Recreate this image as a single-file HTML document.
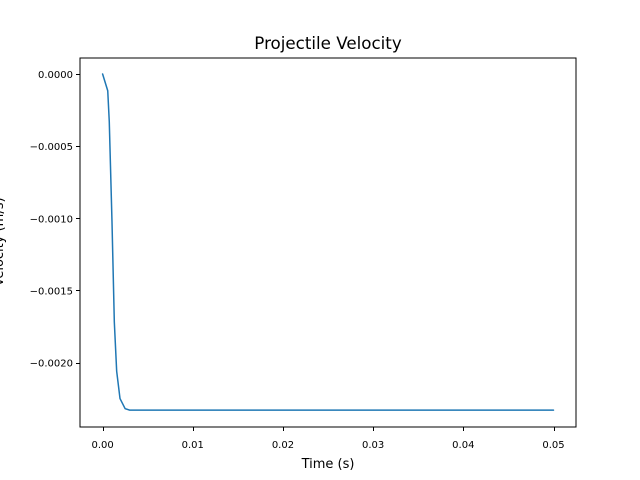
<!DOCTYPE html>
<html><head><meta charset="utf-8"><style>
body{margin:0;background:#fff}
svg{display:block;font-family:"DejaVu Sans","Liberation Sans",sans-serif}
</style></head><body>
<svg id="chart" width="640" height="480">
<rect width="640" height="480" fill="#fff"/>
<text x="328" y="49" font-size="16.7" text-anchor="middle" fill="#000">Projectile Velocity</text>
<text x="328" y="468" font-size="13" text-anchor="middle" fill="#000">Time (s)</text>
<text transform="translate(3,242) rotate(-90)" font-size="13" text-anchor="middle" fill="#000">Velocity (m/s)</text>
<g id="axes"></g>
<rect x="80" y="58" width="496" height="369" fill="none" stroke="#000" stroke-width="1"/>
</svg>
<script>
const times=[0,0.00057,0.00074,0.00104,0.0013,0.00156,0.00193,0.0025,0.003,0.01,0.02,0.03,0.04,0.05];
const velocities=[0,-0.000116,-0.00033,-0.00102,-0.00172,-0.00206,-0.00225,-0.00232,-0.00233,-0.00233,-0.00233,-0.00233,-0.00233,-0.00233];
const xTicks=[0,0.01,0.02,0.03,0.04,0.05];
const xTickLabels=["0.00","0.01","0.02","0.03","0.04","0.05"];
const yTicks=[0,-0.0005,-0.001,-0.0015,-0.002];
const yTickLabels=["0.0000","\u22120.0005","\u22120.0010","\u22120.0015","\u22120.0020"];
const sx=v=>102.6+v*9018;
const sy=v=>74-v*144250;
const g=document.getElementById('axes');
const NS='http://www.w3.org/2000/svg';
function mk(t,a){const e=document.createElementNS(NS,t);for(const k in a)e.setAttribute(k,a[k]);g.appendChild(e);return e;}
xTicks.forEach((v,i)=>{
 const l=mk('line',{x1:Math.round(sx(v))+0.5,x2:Math.round(sx(v))+0.5,y1:427,y2:431,stroke:'#000'});
 
 
 const t=mk('text',{x:sx(v),y:448,'font-size':10,'text-anchor':'middle',fill:'#000'});
 t.textContent=xTickLabels[i];
 
 
});
yTicks.forEach((v,i)=>{
 const l=mk('line',{x1:76,x2:80,y1:Math.round(sy(v))+0.5,y2:Math.round(sy(v))+0.5,stroke:'#000'});
 
 
 const t=mk('text',{x:73,y:sy(v)+4,'font-size':10,'text-anchor':'end',fill:'#000'});
 t.textContent=yTickLabels[i];
 
 
});
const p=mk('polyline',{points:times.map((t,i)=>sx(t)+','+sy(velocities[i])).join(' '),fill:'none',stroke:'#1f77b4','stroke-width':1.5,'stroke-linejoin':'round','stroke-linecap':'round'});


</script>
</body></html>
